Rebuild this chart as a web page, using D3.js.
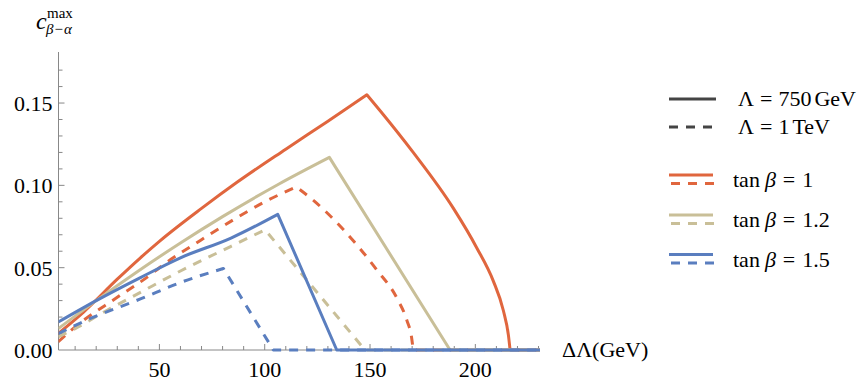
<!DOCTYPE html>
<html>
<head>
<meta charset="utf-8">
<script src="https://cdn.jsdelivr.net/npm/d3@7"></script>
<style>
  body { margin: 0; background: #fff; }
  svg text { font-family: "Liberation Serif", "DejaVu Serif", serif; }
</style>
</head>
<body>
<div id="chart"></div>
<script>
// curve points: [deltaLambda, c_max]
// each curve rises to a kink, falls to zero, then stays at zero
const tan1_750_rise = [[2,0.010],[14,0.023],[30,0.043],[41,0.056],[50,0.066],[70,0.086],[87,0.102],[110,0.122],[130,0.139],[148.5,0.155]];
const tan1_750_fall = [[148.5,0.155],[155,0.145],[170.5,0.120],[189.6,0.086],[200.7,0.062],[208.5,0.042],[213.3,0.024],[215.7,0.009],[216.5,0]];
const tan1_1tev_rise = [[2,0.005],[10,0.014],[30,0.032],[45,0.045],[50,0.050],[70,0.067],[85,0.079],[100,0.090],[115,0.099]];
const tan1_1tev_fall = [[115,0.099],[123,0.091],[136,0.075],[153,0.049],[163,0.031],[167.5,0.018],[169.8,0.007],[170.5,0]];
const tan12_750_rise = [[2,0.013],[20,0.030],[40,0.048],[60,0.065],[80,0.081],[107,0.101],[130.7,0.117]];
const tan12_750_fall = [[130.7,0.117],[188,0]];
const tan12_1tev_rise = [[2,0.008],[10,0.013],[25,0.024],[41,0.035],[60,0.048],[84,0.063],[100.2,0.073]];
const tan12_1tev_fall = [[100.2,0.073],[147.6,0]];
const tan15_750_rise = [[2,0.017],[20,0.030],[41,0.044],[60,0.056],[84,0.068],[106.2,0.0824]];
const tan15_750_fall = [[106.2,0.0824],[134.2,0]];
const tan15_1tev_rise = [[2,0.010],[17,0.019],[41,0.031],[60,0.041],[80.4,0.0495]];
const tan15_1tev_fall = [[80.4,0.0495],[104.1,0]];

const xTicks = [50, 100, 150, 200];
const yTicks = [0, 0.05, 0.10, 0.15];
const tanLabels = ["1", "1.2", "1.5"];

const colors = ["#e0663e", "#c9bf98", "#5a7ebf"];
const dash = "9,8";

const width = 865, height = 381;
const svg = d3.select("#chart").append("svg")
    .attr("width", width).attr("height", height);

const x = d3.scaleLinear().domain([2.1, 230.7]).range([58.5, 540]);
const y = d3.scaleLinear().domain([0, 0.181]).range([350, 52]);

svg.append("clipPath").attr("id", "clip")
  .append("rect").attr("x", 58.5).attr("y", 40).attr("width", 482).attr("height", 312);

// axes
const axisColor = "#888";
const gx = svg.append("g").attr("transform", "translate(0,350)");
gx.append("line").attr("x1", 58.5).attr("x2", 540).attr("stroke", axisColor);
const xMinor = d3.range(10, 231, 10);
gx.selectAll("line.t").data(xMinor).enter().append("line")
    .attr("class", "t")
    .attr("x1", d => x(d)).attr("x2", d => x(d))
    .attr("y1", 0).attr("y2", d => d % 50 === 0 ? -6 : -4)
    .attr("stroke", axisColor);
gx.selectAll("text").data(xTicks).enter().append("text")
    .attr("x", d => x(d)).attr("y", 27)
    .attr("text-anchor", "middle").style("font-size", "22px")
    .text(d => d);

const gy = svg.append("g").attr("transform", "translate(58.5,0)");
gy.append("line").attr("y1", 52).attr("y2", 350).attr("stroke", axisColor);
const yMinor = d3.range(1, 18).map(d => d / 100);
gy.selectAll("line.t").data(yMinor).enter().append("line")
    .attr("class", "t")
    .attr("y1", d => y(d)).attr("y2", d => y(d))
    .attr("x1", 0).attr("x2", d => (Math.round(d * 100) % 5 === 0) ? 6 : 4)
    .attr("stroke", axisColor);
gy.selectAll("text").data(yTicks).enter().append("text")
    .attr("x", -6).attr("y", d => y(d) + 8)
    .attr("text-anchor", "end").style("font-size", "22px")
    .text(d => d.toFixed(2));

// curves: smooth rise + smooth fall, sharp kink between, then flat at zero
const smooth = d3.line().x(d => x(d[0])).y(d => y(d[1])).curve(d3.curveMonotoneX);
function curvePath(rise, fall) {
  return smooth(rise) + smooth(fall).replace(/^M/, "L") +
    "L" + x(x.domain()[1]) + "," + y(0);
}
const series = [
  {rise: tan1_750_rise, fall: tan1_750_fall, c: 0, dashed: false},
  {rise: tan1_1tev_rise, fall: tan1_1tev_fall, c: 0, dashed: true},
  {rise: tan12_750_rise, fall: tan12_750_fall, c: 1, dashed: false},
  {rise: tan12_1tev_rise, fall: tan12_1tev_fall, c: 1, dashed: true},
  {rise: tan15_1tev_rise, fall: tan15_1tev_fall, c: 2, dashed: true},
  {rise: tan15_750_rise, fall: tan15_750_fall, c: 2, dashed: false}
];
svg.append("g").attr("clip-path", "url(#clip)")
  .selectAll("path").data(series).enter().append("path")
    .attr("d", d => curvePath(d.rise, d.fall))
    .attr("fill", "none")
    .attr("stroke", d => colors[d.c])
    .attr("stroke-width", 3)
    .attr("stroke-linejoin", "round")
    .attr("stroke-dasharray", d => d.dashed ? dash : null);

// axis labels
svg.append("text").attr("x", 36).attr("y", 29).style("font-size", "24px")
    .style("font-style", "italic").text("c");
svg.append("text").attr("x", 47).attr("y", 18).style("font-size", "15px").text("max");
const sub = svg.append("text").attr("x", 46).attr("y", 34).style("font-size", "15px");
sub.append("tspan").style("font-style", "italic").text("β");
sub.append("tspan").attr("dx", 1).text("−");
sub.append("tspan").attr("dx", 1).style("font-style", "italic").text("α");

svg.append("text").attr("x", 562).attr("y", 357).style("font-size", "22px").text("ΔΛ(GeV)");

// legend
const lg = svg.append("g");
const lamRows = [{y: 99, dashed: false, val: "750", unit: "GeV"}, {y: 127, dashed: true, val: "1", unit: "TeV"}];
lamRows.forEach(r => {
  lg.append("line").attr("x1", 669).attr("x2", 716).attr("y1", r.y).attr("y2", r.y)
    .attr("stroke", "#444").attr("stroke-width", 3)
    .attr("stroke-dasharray", r.dashed ? dash : null);
  const t = lg.append("text").attr("x", 738).attr("y", r.y + 7).style("font-size", "22px");
  t.append("tspan").text("Λ");
  t.append("tspan").attr("dx", 6).text("=");
  t.append("tspan").attr("dx", 6).text(r.val);
  t.append("tspan").attr("dx", 3).text(r.unit);
});
const tanRowsY = [175, 215, 254.5];
tanLabels.forEach((lab, i) => {
  const yy = tanRowsY[i];
  lg.append("line").attr("x1", 669).attr("x2", 713).attr("y1", yy).attr("y2", yy)
    .attr("stroke", colors[i]).attr("stroke-width", 3);
  lg.append("line").attr("x1", 671).attr("x2", 716).attr("y1", yy + 8.5).attr("y2", yy + 8.5)
    .attr("stroke", colors[i]).attr("stroke-width", 3).attr("stroke-dasharray", dash);
  const t = lg.append("text").attr("x", 733).attr("y", yy + 12).style("font-size", "22px");
  t.append("tspan").text("tan");
  t.append("tspan").attr("dx", 5).style("font-style", "italic").text("β");
  t.append("tspan").attr("dx", 7).text("=");
  t.append("tspan").attr("dx", 7).text(lab);
});
</script>
</body>
</html>
